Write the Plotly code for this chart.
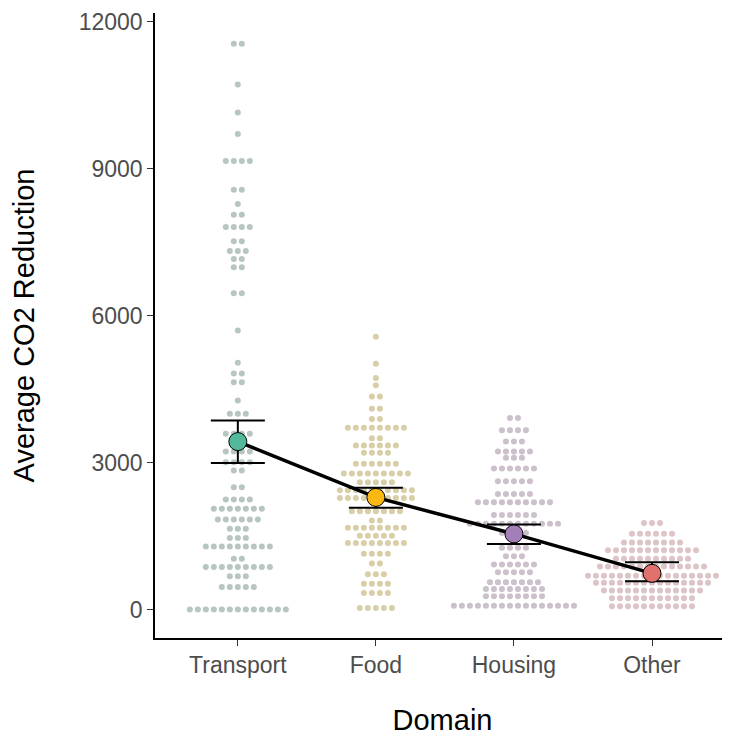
import plotly.graph_objects as go

categories = ["Transport", "Food", "Housing", "Other"]

# dot rows (value of each stacked row, and number of dots in it)
transport_vals = [11550, 10720, 10150, 9710, 9160, 8570, 8280, 8060, 7810, 7520, 7320, 7160, 6990, 6460,
                  5700, 5040, 4820, 4640, 4270, 4000, 3590, 3230, 3010, 2840, 2500, 2250, 2060, 1840,
                  1650, 1460, 1290, 1040, 870, 680, 460, 0]
transport_counts = [2, 1, 1, 1, 4, 2, 1, 2, 4, 2, 3, 2, 2, 2,
                    1, 1, 2, 2, 1, 3, 4, 4, 4, 2, 2, 4, 7, 6,
                    3, 3, 9, 2, 9, 3, 5, 13]

food_vals = [5570, 5020, 4730, 4580, 4350, 4100, 3890, 3710, 3500, 3350, 3200, 2980, 2780, 2600,
             2435, 2280, 2010, 1820, 1670, 1510, 1360, 1140, 940, 720, 530, 340, 30]
food_counts = [1, 1, 1, 1, 2, 2, 2, 8, 2, 6, 4, 6, 9, 5,
               10, 10, 7, 2, 8, 5, 8, 4, 2, 3, 4, 4, 5]

housing_vals = [3910, 3660, 3430, 3230, 3100, 2880, 2620, 2360, 2190, 1930, 1750, 1565,
                1260, 1090, 920, 760, 560, 420, 270, 80]
housing_counts = [2, 4, 3, 5, 3, 6, 5, 5, 10, 6, 12, 4,
                  4, 3, 6, 5, 7, 8, 8, 16]

other_vals = [1770, 1550, 1370, 1210, 1040, 880, 690, 550, 390, 230, 70]
other_counts = [3, 6, 8, 12, 10, 14, 17, 15, 13, 11, 11]

# group means and confidence intervals
means = [3430, 2290, 1545, 740]
ci_low = [2995, 2080, 1340, 580]
ci_high = [3860, 2490, 1735, 965]

y_ticks = [0, 3000, 6000, 9000, 12000]
y_tick_labels = ["0", "3000", "6000", "9000", "12000"]

mean_colors = ["#52B99B", "#FBB713", "#A47EB6", "#E1716C"]
dot_colors = ["#B8C6C1", "#D8CEA7", "#CBC0CC", "#DDC4C6"]

groups = [(transport_vals, transport_counts), (food_vals, food_counts),
          (housing_vals, housing_counts), (other_vals, other_counts)]

SPACING = 0.058  # horizontal distance between stacked dots (x units)

fig = go.Figure()

for gi, (vals, counts) in enumerate(groups):
    xs, ys = [], []
    for v, n in zip(vals, counts):
        for k in range(n):
            xs.append(gi + 1 + (k - (n - 1) / 2) * SPACING)
            ys.append(v)
    fig.add_trace(go.Scatter(
        x=xs, y=ys, mode="markers",
        marker=dict(size=6, color=dot_colors[gi], line=dict(width=0)),
        hoverinfo="skip", showlegend=False))

xpos = [1, 2, 3, 4]

fig.add_trace(go.Scatter(
    x=xpos, y=means, mode="lines",
    line=dict(color="black", width=3.5),
    showlegend=False, hoverinfo="skip"))

fig.add_trace(go.Scatter(
    x=xpos, y=means, mode="markers",
    marker=dict(size=0.1, color="rgba(0,0,0,0)"),
    error_y=dict(type="data", symmetric=False,
                 array=[h - m for h, m in zip(ci_high, means)],
                 arrayminus=[m - l for m, l in zip(means, ci_low)],
                 color="black", thickness=2, width=27),
    showlegend=False, hoverinfo="skip"))

fig.add_trace(go.Scatter(
    x=xpos, y=means, mode="markers",
    marker=dict(size=18, color=mean_colors, line=dict(color="black", width=1)),
    showlegend=False))

fig.update_layout(
    width=722, height=728,
    margin=dict(l=147, r=0, t=5, b=98),
    plot_bgcolor="white", paper_bgcolor="white",
    font=dict(family="Liberation Sans, Arial, sans-serif"),
    xaxis=dict(
        range=[0.4, 4.565], automargin=False,
        tickvals=xpos, ticktext=categories,
        showline=True, linecolor="black", linewidth=1.5,
        ticks="outside", ticklen=6, tickcolor="#333333", tickwidth=1.2,
        tickfont=dict(size=23, color="#4D4D4D"),
        showgrid=False, zeroline=False,
        title=dict(text="Domain", font=dict(size=29, color="black"), standoff=36),
    ),
    yaxis=dict(
        range=[-580, 12180], automargin=False,
        tickvals=y_ticks, ticktext=y_tick_labels,
        showline=True, linecolor="black", linewidth=1.5,
        ticks="outside", ticklen=6, tickcolor="#333333", tickwidth=1.2,
        tickfont=dict(size=23, color="#4D4D4D"),
        showgrid=False, zeroline=False,
        title=dict(text="Average CO2 Reduction", font=dict(size=29, color="black"), standoff=42),
    ),
)

fig.write_html("out.html")
